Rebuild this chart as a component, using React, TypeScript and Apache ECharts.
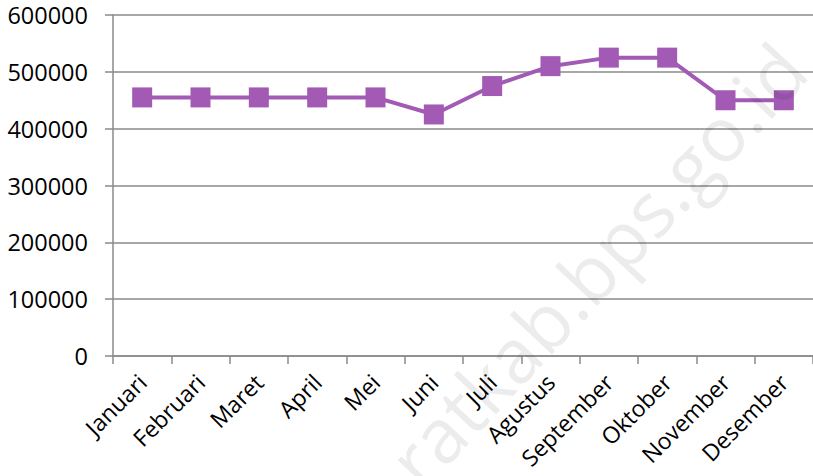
import React, { useEffect, useRef } from "react";
import * as echarts from "echarts";

const months = ["Januari", "Februari", "Maret", "April", "Mei", "Juni", "Juli", "Agustus", "September", "Oktober", "November", "Desember"];
const values = [455000, 455000, 455000, 455000, 455000, 425000, 475000, 510000, 525000, 525000, 450000, 450000];
const watermarkText = "ratkab.bps.go.id";

const FONT = "Open Sans";
const PURPLE = "#A25AB5";
const GREY = "#8A8A8A";

export default function App() {
  const ref = useRef<HTMLDivElement>(null);
  useEffect(() => {
    if (!ref.current) return;
    const chart = echarts.init(ref.current, null, { renderer: "svg" });
    chart.setOption({
      animation: false,
      backgroundColor: "#ffffff",
      grid: { left: 113, right: -1, top: 15, bottom: 120, containLabel: false },
      xAxis: {
        type: "category",
        data: months,
        boundaryGap: true,
        axisLine: { show: true, lineStyle: { color: GREY, width: 1.5 } },
        axisTick: { show: true, length: 8, interval: 0, alignWithLabel: false, lineStyle: { color: GREY, width: 1.5 } },
        axisLabel: { interval: 0, rotate: 45, margin: 22, fontFamily: FONT, fontSize: 23, color: "#000" },
      },
      yAxis: {
        type: "value",
        min: 0,
        max: 600000,
        interval: 100000,
        axisLine: { show: true, lineStyle: { color: GREY, width: 1.5 } },
        axisTick: { show: true, length: 8, lineStyle: { color: GREY, width: 1.5 } },
        axisLabel: { margin: 25, fontFamily: FONT, fontSize: 23.5, color: "#000", formatter: (v: number) => String(v) },
        splitLine: { show: true, lineStyle: { color: GREY, width: 1.5 } },
      },
      series: [
        {
          type: "line",
          data: values,
          symbol: "rect",
          symbolSize: 20,
          itemStyle: { color: PURPLE },
          lineStyle: { color: PURPLE, width: 4 },
          z: 3,
        },
      ],
      graphic: [
        {
          type: "text",
          x: 596,
          y: 264,
          rotation: (47 * Math.PI) / 180,
          z: 100,
          silent: true,
          style: {
            text: watermarkText,
            fontFamily: FONT,
            fontSize: 76,
            fill: "rgba(0,0,0,0.075)",
            align: "center",
            verticalAlign: "middle",
          },
        },
      ],
    });
    return () => chart.dispose();
  }, []);
  return <div ref={ref} style={{ position: "fixed", left: 0, top: 0, width: 813, height: 476 }} />;
}
